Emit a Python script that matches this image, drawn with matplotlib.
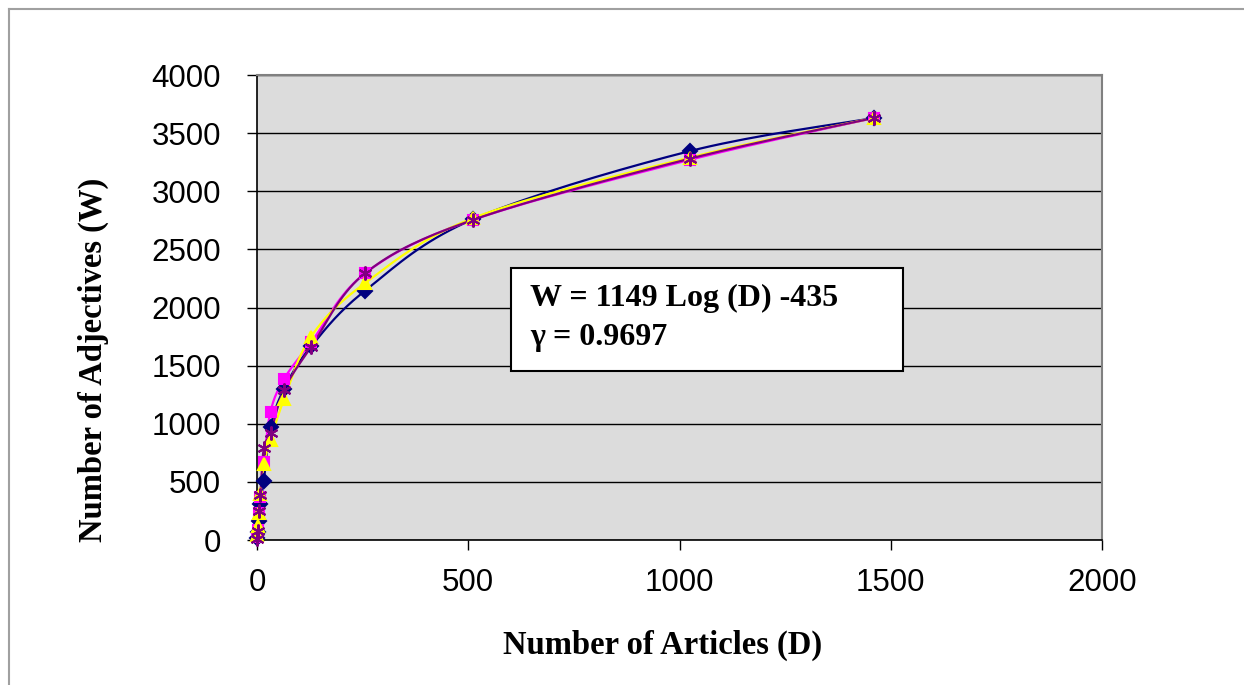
import numpy as np
import matplotlib
matplotlib.use("Agg")
import matplotlib.pyplot as plt
from matplotlib.lines import Line2D
from matplotlib.patches import Rectangle

# number of articles (D)
articles = [1, 2, 4, 8, 16, 32, 64, 128, 256, 512, 1024, 1460]

# number of adjectives (W), one list per series
series_navy = [15, 70, 160, 310, 505, 970, 1300, 1665, 2145, 2760, 3345, 3630]
series_magenta = [25, 90, 230, 370, 670, 1105, 1385, 1700, 2295, 2755, 3270, 3630]
series_yellow = [40, 120, 230, 400, 650, 860, 1210, 1750, 2210, 2770, 3290, 3630]
series_purple = [10, 80, 250, 390, 790, 920, 1290, 1660, 2295, 2755, 3280, 3630]

fit_lines = ["W = 1149 Log (D) -435", "γ = 0.9697"]

X_MAX, Y_MAX = 2000, 4000
AX_W, AX_H = 845, 465  # axes size in pixels, used for smoothing in screen space


def smooth(xs, ys, steps=20):
    """Excel-like smoothed line: Catmull-Rom bezier through the points."""
    px = np.asarray(xs, float) / X_MAX * AX_W
    py = np.asarray(ys, float) / Y_MAX * AX_H
    pts = np.column_stack([px, py])
    out = [pts[0]]
    n = len(pts)
    for i in range(n - 1):
        p0 = pts[i - 1] if i > 0 else pts[i]
        p1 = pts[i]
        p2 = pts[i + 1]
        p3 = pts[i + 2] if i + 2 < n else pts[i + 1]
        c1 = p1 + (p2 - p0) / 6
        c2 = p2 - (p3 - p1) / 6
        t = np.linspace(0, 1, steps)[1:, None]
        seg = ((1 - t) ** 3) * p1 + 3 * ((1 - t) ** 2) * t * c1 + 3 * (1 - t) * t ** 2 * c2 + t ** 3 * p2
        out.extend(seg)
    out = np.array(out)
    return out[:, 0] / AX_W * X_MAX, out[:, 1] / AX_H * Y_MAX


fig = plt.figure(figsize=(12.44, 6.85), dpi=100)
ax = fig.add_axes([257 / 1244, 1 - 540 / 685, 845 / 1244, 465 / 685])
ax.set_facecolor("#DCDCDC")

# outer chart frame (top and left edges visible)
fig.add_artist(Line2D([9 / 1244, 1], [1 - 9 / 685, 1 - 9 / 685], color="#A0A0A0", lw=1.5))
fig.add_artist(Line2D([9 / 1244, 9 / 1244], [0, 1 - 9 / 685], color="#A0A0A0", lw=1.5))

styles = [
    (series_navy, "#000080", "D", 7),
    (series_magenta, "#FF00FF", "s", 7),
    (series_yellow, "#FFFF00", "^", 8),
    (series_purple, "#800080", (6, 2, 0), 10),
]
for vals, color, marker, ms in styles:
    sx, sy = smooth(articles, vals)
    ax.plot(sx, sy, color=color, lw=1.6, zorder=3, clip_on=False)
    ax.plot(articles, vals, linestyle="none", marker=marker, markersize=ms,
            color=color, markeredgecolor=color, markeredgewidth=1.5, zorder=4, clip_on=False)

ax.set_xlim(0, X_MAX)
ax.set_ylim(0, Y_MAX)
ax.set_xticks(range(0, 2001, 500))
ax.set_yticks(range(0, 4001, 500))
ax.yaxis.grid(True, color="black", lw=1)
ax.set_axisbelow(True)

for side in ["top", "right"]:
    ax.spines[side].set_color("#808080")
    ax.spines[side].set_linewidth(1.5)
for side in ["left", "bottom"]:
    ax.spines[side].set_color("black")
    ax.spines[side].set_linewidth(1.2)

ax.tick_params(axis="both", direction="out", length=7, width=1, colors="black", labelsize=22.5)
ax.tick_params(axis="y", pad=19)
ax.tick_params(axis="x", pad=13)
for lab in ax.get_xticklabels() + ax.get_yticklabels():
    lab.set_fontfamily("Liberation Sans")

ax.set_xlabel("Number of Articles (D)", fontsize=23.5, fontweight="bold",
              family="Liberation Serif", va="center")
ax.set_ylabel("Number of Adjectives (W)", fontsize=23.5, fontweight="bold",
              family="Liberation Serif", va="center")
ax.xaxis.set_label_coords((663 - 257) / 845, (540 - 645) / 465)
ax.yaxis.set_label_coords((93 - 257) / 845, (540 - 360) / 465)

# regression box
box = Rectangle((511 / 1244, 1 - 371 / 685), 392 / 1244, 103 / 685, transform=fig.transFigure,
                facecolor="white", edgecolor="black", lw=1.5, zorder=5)
fig.add_artist(box)
for line, ypix in zip(fit_lines, [298, 337]):
    fig.text(530 / 1244, 1 - ypix / 685, line, fontsize=23, fontweight="bold",
             family="Liberation Serif", va="center", ha="left", zorder=6)

fig.savefig("out.png", dpi=100)
